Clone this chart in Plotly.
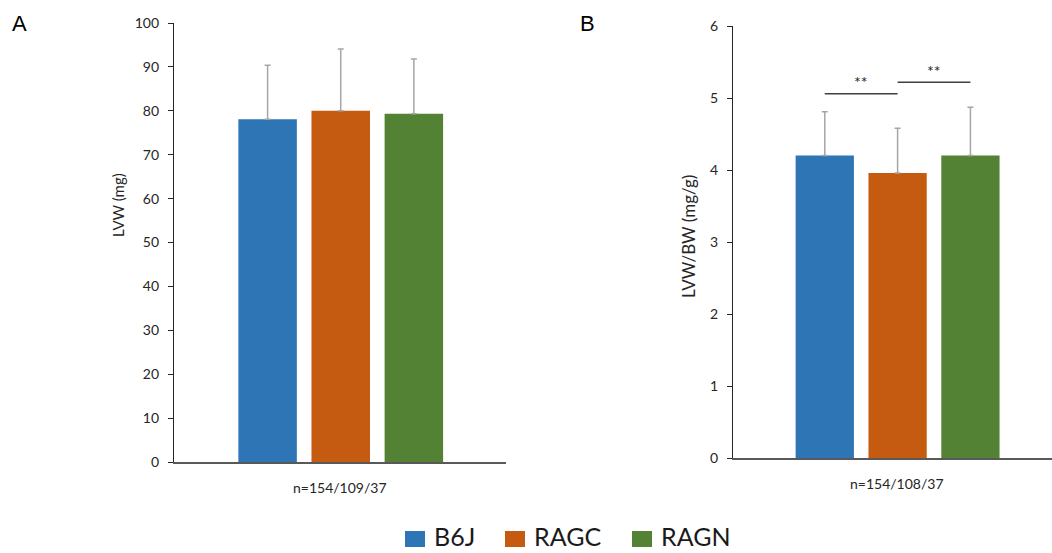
import plotly.graph_objects as go

# Strains and summary statistics (mean + SD)
strains = ["B6J", "RAGC", "RAGN"]
colors = ["#2E75B6", "#C55A11", "#548235"]

lvw_mean = [78.1, 80.0, 79.3]
lvw_sd = [12.3, 14.1, 12.5]

ratio_mean = [4.20, 3.96, 4.20]
ratio_sd = [0.61, 0.62, 0.67]

n_lvw = "n=154/109/37"
n_ratio = "n=154/108/37"

# significance brackets on the ratio panel: (from, to, height, label)
sig_pairs = [("B6J", "RAGC", 5.06, "**"), ("RAGC", "RAGN", 5.22, "**")]

W, H = 1052, 553
FONT = "Lato"


def px_x(v):
    return v / W


def px_y(v):
    return (H - v) / H


fig = go.Figure()

err_style = dict(type="data", symmetric=False, color="#a6a6a6", thickness=1.5, width=3)

fig.add_trace(go.Bar(
    x=strains, y=lvw_mean, width=0.8,
    marker=dict(color=colors, line=dict(width=0)),
    error_y=dict(array=lvw_sd, arrayminus=[0] * 3, **err_style),
    xaxis="x", yaxis="y", showlegend=False,
))
fig.add_trace(go.Bar(
    x=strains, y=ratio_mean, width=0.8,
    marker=dict(color=colors, line=dict(width=0)),
    error_y=dict(array=ratio_sd, arrayminus=[0] * 3, **err_style),
    xaxis="x2", yaxis="y2", showlegend=False,
))

tick_font = dict(family=FONT, size=14, color="#262626")
yax_common = dict(
    showgrid=False, zeroline=False, showline=True, linecolor="#262626", linewidth=1.3,
    ticks="outside", ticklen=5, tickcolor="#262626", tickwidth=1.3,
    tickfont=tick_font, ticklabelstandoff=6, fixedrange=True, automargin=False,
)
xax_common = dict(
    showgrid=False, zeroline=False, showline=True, linecolor="#595959", linewidth=1.6,
    showticklabels=False, ticks="", fixedrange=True, type="category", automargin=False,
)

fig.update_layout(
    width=W, height=H,
    margin=dict(l=0, r=0, t=0, b=0, autoexpand=False),
    paper_bgcolor="white", plot_bgcolor="white",
    barmode="group",
    xaxis=dict(domain=[px_x(174), px_x(506)], range=[-1.28, 3.26], anchor="y", **xax_common),
    yaxis=dict(domain=[px_y(462), px_y(23)], range=[0, 100], dtick=10, anchor="x", **yax_common),
    xaxis2=dict(domain=[px_x(733), 1.0], range=[-1.26, 3.12], anchor="y2", **xax_common),
    yaxis2=dict(domain=[px_y(458), px_y(26)], range=[0, 6], dtick=1, anchor="x2", **yax_common),
)

label_font = dict(family=FONT, size=14, color="#262626")
annotations = [
    dict(text="A", x=px_x(10), y=px_y(24), xanchor="left", yanchor="middle",
         font=dict(family="Liberation Sans", size=22, color="black")),
    dict(text="B", x=px_x(578), y=px_y(24), xanchor="left", yanchor="middle",
         font=dict(family="Liberation Sans", size=22, color="black")),
    dict(text="LVW (mg)", x=px_x(118), y=px_y(205), textangle=-90,
         xanchor="center", yanchor="middle", font=dict(family=FONT, size=15, color="#262626")),
    dict(text="LVW/BW (mg/g)", x=px_x(688), y=px_y(237), textangle=-90,
         xanchor="center", yanchor="middle", font=dict(family=FONT, size=17, color="#262626")),
    dict(text=n_lvw, x=px_x(340), y=px_y(487), xanchor="center", yanchor="middle",
         font=label_font),
    dict(text=n_ratio, x=px_x(897), y=px_y(483), xanchor="center", yanchor="middle",
         font=label_font),
]
for a in annotations:
    a.update(xref="paper", yref="paper", showarrow=False)

shapes = []
# significance brackets
for a, b, h, lab in sig_pairs:
    shapes.append(dict(type="line", xref="x2", yref="y2", x0=a, x1=b, y0=h, y1=h,
                       line=dict(color="#404040", width=1.5)))
    i0, i1 = strains.index(a), strains.index(b)
    annotations.append(dict(text=lab, xref="x2", yref="y2", x=(i0 + i1) / 2, y=h,
                            yshift=12, showarrow=False, xanchor="center", yanchor="middle",
                            font=dict(family=FONT, size=16, color="#262626")))

# legend drawn as colored boxes with labels
legend_x = [405, 505, 632]
for name, col, lx in zip(strains, colors, legend_x):
    shapes.append(dict(type="rect", xref="paper", yref="paper",
                       x0=px_x(lx), x1=px_x(lx + 20), y0=px_y(547), y1=px_y(531),
                       fillcolor=col, line=dict(width=0)))
    annotations.append(dict(text=name, xref="paper", yref="paper", x=px_x(lx + 27), y=px_y(536),
                            xanchor="left", yanchor="middle", showarrow=False,
                            font=dict(family=FONT, size=25, color="#1a1a1a")))

fig.update_layout(annotations=annotations, shapes=shapes)

fig.write_html("out.html")
